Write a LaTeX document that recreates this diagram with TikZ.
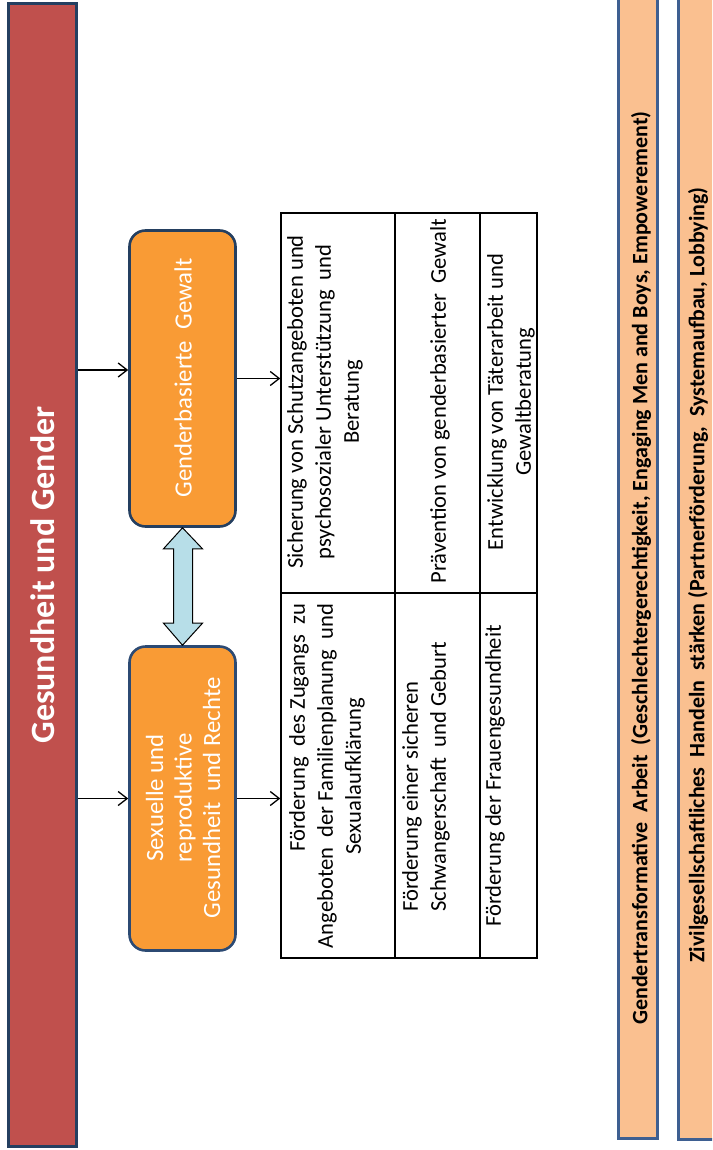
\documentclass[tikz,border=0pt]{standalone}
\usepackage{fontspec}
\setmainfont{Carlito}
\usetikzlibrary{arrows.meta,calc}
\definecolor{barred}{HTML}{C0504D}
\definecolor{navy}{HTML}{243F60}
\definecolor{boxorange}{HTML}{F99B35}
\definecolor{boxline}{HTML}{2C4A73}
\definecolor{peach}{HTML}{FAC090}
\definecolor{peachline}{HTML}{3E5F91}
\definecolor{arrowblue}{HTML}{B7DEE8}
\newlength\famw
\begin{document}
\begin{tikzpicture}[x=1pt,y=-1pt,
 redbar/.style={draw=navy, line width=3pt, fill=barred, rectangle, inner sep=0pt},
 topic/.style={draw=#1, line width=2.6pt, fill=boxorange, rounded corners=16pt, inner sep=0pt, minimum width=106pt},
 cellbox/.style={draw=black, line width=1.4pt, inner sep=0pt},
 strip/.style={draw=peachline, line width=2.6pt, fill=peach, inner sep=0pt},
 arr/.style={draw=black, line width=1.3pt, -{Straight Barb[length=9pt,width=14pt,line width=1.3pt]}},
 celltext/.style={rotate=90, font=\fontsize{22.6}{28}\selectfont, inner sep=0pt, align=center},
 boxtext/.style={rotate=90, text=white, font=\fontsize{24.8}{28.5}\selectfont, inner sep=0pt, align=center},
 striptext/.style={rotate=90, font=\bfseries\fontsize{22}{26}\selectfont, inner sep=0pt},
]
\useasboundingbox (0,0) rectangle (712,1150);
\clip (0,0) rectangle (712,1150);

% main bar
\node[redbar, minimum width=68pt, minimum height=1143pt] (bar) at (42.5,575) {};
\node[rotate=90, text=white, font=\bfseries\fontsize{34}{40}\selectfont, inner sep=0pt] (title) at (43,575) {Gesundheit und Gender};

% topic boxes
\node[topic=navy, minimum height=296pt] (box1) at (182.5,378.5) {};
\node[topic=boxline, minimum height=304pt] (box2) at (182.5,798.5) {};
\node[boxtext] (box1t) at (183,378) {Genderbasierte\ \ Gewalt};
\node[boxtext] (box2t) at (183,798) {Sexuelle und\\reproduktive\\Gesundheit\ \ und Rechte};

% double arrow between boxes
\draw[fill=arrowblue, draw=black, line width=1pt]
  (box1.south) -- ($(box1.south)+(-19,21)$) -- ($(box1.south)+(-9,21)$)
  -- ($(box2.north)+(-9,-22)$) -- ($(box2.north)+(-19,-22)$) -- (box2.north)
  -- ($(box2.north)+(20,-22)$) -- ($(box2.north)+(10,-22)$)
  -- ($(box1.south)+(10,21)$) -- ($(box1.south)+(20,21)$) -- cycle;

% table cells
\node[cellbox, minimum width=114pt, minimum height=380pt] (c11) at (338,403) {};
\node[cellbox, minimum width=85pt, minimum height=380pt] (c21) at (437.5,403) {};
\node[cellbox, minimum width=57pt, minimum height=380pt] (c31) at (508.5,403) {};
\node[cellbox, minimum width=114pt, minimum height=365pt] (c12) at (338,775.5) {};
\node[cellbox, minimum width=85pt, minimum height=365pt] (c22) at (437.5,775.5) {};
\node[cellbox, minimum width=57pt, minimum height=365pt] (c32) at (508.5,775.5) {};

\node[celltext] (t11) at (325,402) {Sicherung von Schutzangeboten und\\psychosozialer Unterstützung\ \ und\\Beratung};
\node[celltext] (t21) at (440,401) {Prävention von genderbasierter\ \ Gewalt};
\node[celltext] (t31) at (511,402) {Entwicklung von Täterarbeit und\\Gewaltberatung};
\node[celltext] (t12) at (327,776) {\settowidth\famw{Angeboten\ \ der Familienplanung\ \ und}\makebox[\famw][r]{Förderung\ \ des Zugangs\ \ zu}\\Angeboten\ \ der Familienplanung\ \ und\\Sexualaufklärung};
\node[celltext, align=left, anchor=west] (t22) at (426,912) {Förderung einer sicheren\\Schwangerschaft\ \ und Geburt};
\node[celltext] (t32) at (495,776) {Förderung der Frauengesundheit};

% connectors
\coordinate (a1) at ([yshift=8.5pt]box1.west);
\draw[arr] (a1 -| bar.east) -- (a1);
\draw[arr] (box2.west -| bar.east) -- (box2.west);
\draw[arr] (box1.east) -- (box1.east -| c11.west);
\draw[arr] (box2.east) -- (box2.east -| c12.west);

% bottom strips
\node[strip, minimum width=39pt, minimum height=1170pt, anchor=south] (s1) at (638,1139.7) {};
\node[strip, minimum width=40pt, minimum height=1170pt, anchor=south] (s2) at (698.3,1140.7) {};
\node[striptext] (s1t) at (641,568) {Gendertransformative\ \ Arbeit\ \ (Geschlechtergerechtigkeit, Engaging Men and Boys, Empowerement)};
\node[striptext] (s2t) at (698,575) {Zivilgesellschaftliches\ \ Handeln\ \ stärken (Partnerförderung,\ \ Systemaufbau, Lobbying)};
\end{tikzpicture}
\end{document}
